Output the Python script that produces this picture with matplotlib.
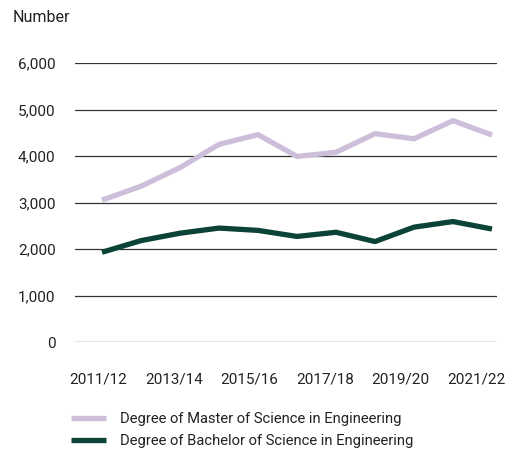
import matplotlib
matplotlib.use("Agg")
import matplotlib.pyplot as plt
import numpy as np

years = ["2011/12", "2012/13", "2013/14", "2014/15", "2015/16", "2016/17",
         "2017/18", "2018/19", "2019/20", "2020/21", "2021/22"]
master = [3050, 3350, 3750, 4250, 4460, 3990, 4080, 4480, 4370, 4760, 4450]
bachelor = [1930, 2180, 2340, 2450, 2400, 2270, 2360, 2160, 2470, 2590, 2430]
yticks = [0, 1000, 2000, 3000, 4000, 5000, 6000]

plt.rcParams['font.family'] = ['Roboto', 'DejaVu Sans']

fig = plt.figure(figsize=(5.22, 4.5), dpi=100)
ax = fig.add_axes([75/522, 1-342/450, (497-75)/522, (342-63)/450])

x = list(range(len(years)))
l1, = ax.plot(x, master, color="#CDBFDA", lw=3.8, solid_capstyle='butt',
              label="Degree of Master of Science in Engineering", zorder=3)
l2, = ax.plot(x, bachelor, color="#0B4436", lw=3.8, solid_capstyle='butt',
              label="Degree of Bachelor of Science in Engineering", zorder=3)

ax.set_ylim(0, 6000)
ax.set_xlim(-27/39, 10 + 5/39)
ax.set_yticks(yticks)
ax.set_yticklabels([f"{v:,}" for v in yticks])
# label slots are slightly condensed relative to the data points, as in the original
ax.set_xticks(np.linspace(-0.09, 9.59, 6))
ax.set_xticklabels(years[::2])
ax.grid(axis='y', color="#333333", lw=0.9)
ax.set_axisbelow(True)
for s in ax.spines.values():
    s.set_visible(False)
ax.tick_params(axis='y', length=0, pad=14, labelsize=11, colors="#222222")
ax.tick_params(axis='x', length=0, pad=22, labelsize=11, colors="#222222")

fig.text(13/522, 1-18/450, "Number", fontsize=11.5, color="#222222", va='center')

fig.legend(handles=[l1, l2], loc='upper left', bbox_to_anchor=(71/522, 1-412/450),
           frameon=False, fontsize=10.6, handlelength=2.4, handletextpad=0.95,
           labelspacing=0.55, borderaxespad=0, borderpad=0, labelcolor="#222222")

fig.savefig("out.png", dpi=100)
